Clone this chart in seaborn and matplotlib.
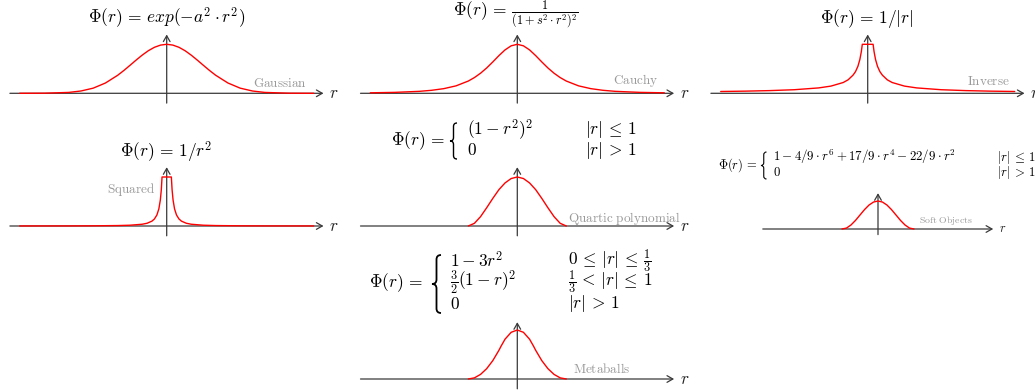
import matplotlib
matplotlib.use("Agg")
import matplotlib.pyplot as plt
import seaborn as sns
from matplotlib.patches import PathPatch
from matplotlib.path import Path

W, H = 1035, 392

# values (r in plot units, phi normalised to peak = 1)
GAUSS_R = [-3, -2.5, -2, -1.75, -1.5, -1.25, -1, -0.875, -0.75, -0.625, -0.5, -0.375, -0.25, -0.125, 0,
           0.125, 0.25, 0.375, 0.5, 0.625, 0.75, 0.875, 1, 1.25, 1.5, 1.75, 2, 2.5, 3]
GAUSS_PHI = [0.0, 0.002, 0.018, 0.047, 0.105, 0.21, 0.368, 0.465, 0.57, 0.677, 0.779, 0.869, 0.939, 0.984, 1.0,
             0.984, 0.939, 0.869, 0.779, 0.677, 0.57, 0.465, 0.368, 0.21, 0.105, 0.047, 0.018, 0.002, 0.0]

CAUCHY_R = GAUSS_R
CAUCHY_PHI = [0.01, 0.019, 0.04, 0.061, 0.095, 0.152, 0.25, 0.321, 0.41, 0.517, 0.64, 0.769, 0.886, 0.969, 1.0,
              0.969, 0.886, 0.769, 0.64, 0.517, 0.41, 0.321, 0.25, 0.152, 0.095, 0.061, 0.04, 0.019, 0.01]

INVERSE_R = [-3, -2.5, -2, -1.5, -1, -0.75, -0.5, -0.4, -0.3, -0.25, -0.2, -0.16, -0.13, -0.11,
             0.11, 0.13, 0.16, 0.2, 0.25, 0.3, 0.4, 0.5, 0.75, 1, 1.5, 2, 2.5, 3]
INVERSE_PHI = [0.037, 0.044, 0.055, 0.073, 0.11, 0.147, 0.22, 0.275, 0.37, 0.44, 0.55, 0.69, 0.85, 1.0,
               1.0, 0.85, 0.69, 0.55, 0.44, 0.37, 0.275, 0.22, 0.147, 0.11, 0.073, 0.055, 0.044, 0.037]

SQUARED_R = [-3, -2, -1.5, -1, -0.75, -0.5, -0.4, -0.3, -0.25, -0.2, -0.16, -0.13, -0.11, -0.095,
             0.095, 0.11, 0.13, 0.16, 0.2, 0.25, 0.3, 0.4, 0.5, 0.75, 1, 1.5, 2, 3]
SQUARED_PHI = [0.001, 0.002, 0.004, 0.009, 0.016, 0.036, 0.056, 0.1, 0.144, 0.225, 0.35, 0.53, 0.74, 1.0,
               1.0, 0.74, 0.53, 0.35, 0.225, 0.144, 0.1, 0.056, 0.036, 0.016, 0.009, 0.004, 0.002, 0.001]

UNIT_R = [-1, -0.875, -0.75, -0.625, -0.5, -0.375, -0.25, -0.125, 0, 0.125, 0.25, 0.375, 0.5, 0.625, 0.75, 0.875, 1]
QUARTIC_PHI = [0, 0.055, 0.191, 0.372, 0.563, 0.742, 0.879, 0.969, 1, 0.969, 0.879, 0.742, 0.563, 0.372, 0.191, 0.055, 0]
SOFT_PHI = [0, 0.033, 0.144, 0.307, 0.5, 0.692, 0.855, 0.962, 1, 0.962, 0.855, 0.692, 0.5, 0.307, 0.144, 0.033, 0]

META_R = [-1, -0.875, -0.75, -0.625, -0.5, -0.375, -0.333, -0.25, -0.125, 0,
          0.125, 0.25, 0.333, 0.375, 0.5, 0.625, 0.75, 0.875, 1]
META_PHI = [0, 0.023, 0.094, 0.211, 0.375, 0.586, 0.667, 0.813, 0.953, 1,
            0.953, 0.813, 0.667, 0.586, 0.375, 0.211, 0.094, 0.023, 0]

AXIS_COLOR = "#3a3a3a"
LABEL_COLOR = "#9a9a9a"

sns.set_theme(style="white")
plt.rcParams["mathtext.fontset"] = "cm"

fig = plt.figure(figsize=(W / 100, H / 100), dpi=100)
bg = fig.add_axes([0, 0, 1, 1])
bg.set_xlim(0, W)
bg.set_ylim(H, 0)
bg.axis("off")


def panel(ox, oy, sx, sy, r, phi, r_size=12.5, ylo=-0.2, yhi=1.2, xext=3.2):
    rect = [(ox - xext * sx) / W, 1 - (oy - ylo * sy) / H, 2 * xext * sx / W, (yhi - ylo) * sy / H]
    ax = fig.add_axes(rect)
    ax.set_xlim(-xext, xext)
    ax.set_ylim(ylo, yhi)
    ax.axis("off")
    arrow = dict(arrowstyle="->,head_length=0.35,head_width=0.2", color=AXIS_COLOR, lw=0.9,
                 shrinkA=0, shrinkB=0)
    ax.annotate("", xy=(xext, 0), xytext=(-xext, 0), arrowprops=arrow, annotation_clip=False)
    ax.annotate("", xy=(0, yhi), xytext=(0, ylo), arrowprops=arrow, annotation_clip=False)
    sns.lineplot(x=r, y=phi, ax=ax, color="red", lw=1.0, estimator=None, legend=False, zorder=3)
    ax.annotate("$r$", xy=(xext, 0), xytext=(4, 0), textcoords="offset points",
                ha="left", va="center", fontsize=r_size, annotation_clip=False)
    return ax


def label(x, y, s, size=9.5, ha="left"):
    bg.text(x, y, r"$\mathrm{" + s.replace(" ", r"\ ") + "}$", color=LABEL_COLOR,
            fontsize=size, ha=ha, va="center")


def eq(x, y, s, size=12.5, ha="left"):
    bg.text(x, y, s, fontsize=size, ha=ha, va="center", color="black")


def brace(x, top, bottom, w, lw=1.0):
    mid = (top + bottom) / 2
    k = w / 2
    verts = [(x + w, top), (x + k, top), (x + k, top + k),
             (x + k, mid - k), (x + k, mid), (x, mid),
             (x + k, mid), (x + k, mid + k),
             (x + k, bottom - k), (x + k, bottom), (x + w, bottom)]
    codes = [Path.MOVETO, Path.CURVE3, Path.CURVE3,
             Path.LINETO, Path.CURVE3, Path.CURVE3,
             Path.CURVE3, Path.CURVE3,
             Path.LINETO, Path.CURVE3, Path.CURVE3]
    bg.add_patch(PathPatch(Path(verts, codes), fill=False, lw=lw, color="black", capstyle="butt"))


# top row
panel(166.7, 93.3, 49, 49, GAUSS_R, GAUSS_PHI)
eq(167, 18, r"$\Phi(r)\,=\,exp(-a^2 \cdot r^2)$", ha="center")
label(253, 83, "Gaussian")

panel(517.3, 93.3, 49, 49, CAUCHY_R, CAUCHY_PHI)
eq(516, 15, r"$\Phi(r)\,=\,\frac{1}{(1+s^2 \cdot r^2)^2}$", ha="center")
label(613, 80, "Cauchy")

panel(867.7, 93.3, 49, 49, INVERSE_R, INVERSE_PHI)
eq(867, 18, r"$\Phi(r)\,=\,1/|r|$", ha="center")
label(967, 81, "Inverse")

# middle row
panel(166.7, 226, 49, 49, SQUARED_R, SQUARED_PHI)
eq(166, 152, r"$\Phi(r)\,=\,1/r^2$", ha="center")
label(155, 189, "Squared", ha="right")

panel(517.3, 226, 49, 49, UNIT_R, QUARTIC_PHI)
eq(445, 141, r"$\Phi(r)\,=$", ha="right")
brace(450, 123, 159, 7)
eq(467, 130, r"$(1-r^2)^2$")
eq(467, 150, r"$0$")
eq(585, 130, r"$|r|\,\leq\,1$")
eq(585, 150, r"$|r|\,>\,1$")
label(568, 218, "Quartic polynomial")

panel(878, 229, 36, 28, UNIT_R, SOFT_PHI, r_size=9, yhi=1.28)
eq(757, 165, r"$\Phi(r)\,=$", size=9, ha="right")
brace(761, 152, 179, 5.5, lw=0.8)
eq(773, 157, r"$1 - 4/9 \cdot r^6 + 17/9 \cdot r^4 - 22/9 \cdot r^2$", size=9.3)
eq(773, 172, r"$0$", size=9.3)
eq(997, 157, r"$|r|\,\leq\,1$", size=9.3)
eq(997, 172, r"$|r|\,>\,1$", size=9.3)
label(919, 220, "Soft Objects", size=7)

# bottom row
panel(517.3, 379, 49, 49, META_R, META_PHI, yhi=1.16)
eq(423, 283, r"$\Phi(r)\,=$", ha="right")
brace(432, 255, 313, 9, lw=1.3)
eq(450, 261, r"$1 - 3r^2$")
eq(450, 282, r"$\frac{3}{2}(1-r)^2$")
eq(450, 304, r"$0$")
eq(568, 261, r"$0\,\leq\,|r|\,\leq\,\frac{1}{3}$")
eq(568, 282, r"$\frac{1}{3}\,<\,|r|\,\leq\,1$")
eq(568, 304, r"$|r|\,>\,1$")
label(573, 369, "Metaballs")

fig.savefig("out.png", dpi=100)
